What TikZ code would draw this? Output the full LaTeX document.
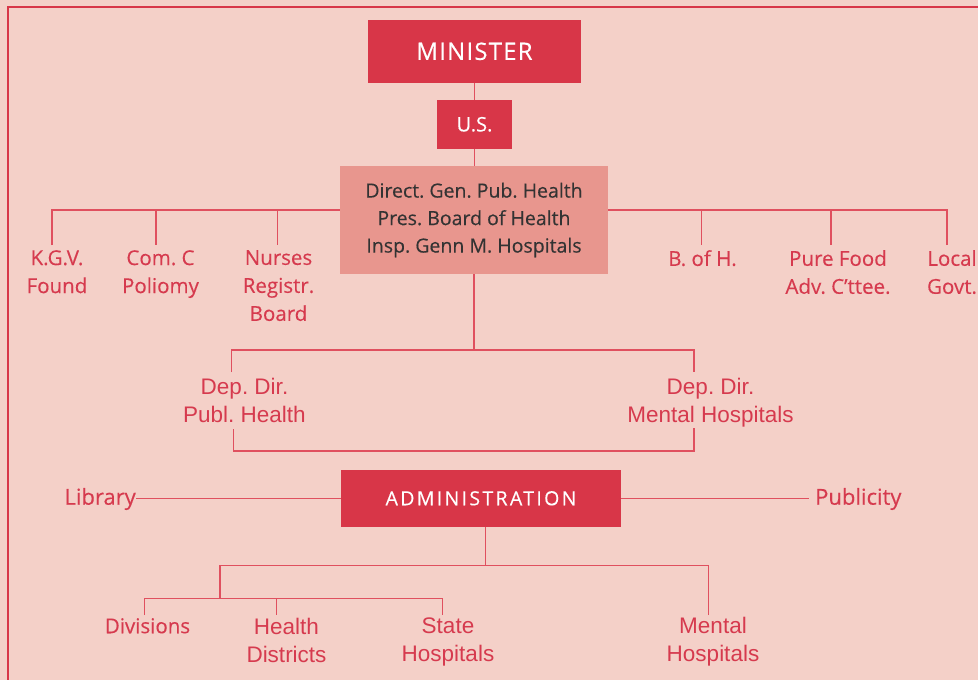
\documentclass[tikz,border=0pt]{standalone}
\usepackage{fontspec}
\setmainfont{Open Sans}[FakeBold=0.3]
\newfontfamily\arialfont{Liberation Sans}
\frenchspacing

\definecolor{panelbg}{HTML}{F4D0C8}
\definecolor{boxred}{HTML}{D83648}
\definecolor{boxpink}{HTML}{E8968E}
\definecolor{wirered}{HTML}{E0505F}
\definecolor{labelred}{HTML}{D63A4E}
\definecolor{darktext}{HTML}{333333}

\tikzset{
	headbox/.style={fill=boxred, text=white, inner sep=0pt},
	chiefbox/.style={fill=boxpink, text=darktext, inner sep=0pt, align=center,
		font=\fontsize{19.5}{27.5}\selectfont},
	unit/.style={text=labelred, inner sep=0pt, align=center, anchor=north,
		font=\fontsize{20.5}{28}\selectfont},
	unitA/.style={unit, font=\arialfont\fontsize{22.5}{27.5}\selectfont},
	wire/.style={draw=wirered, line width=1.2pt}
}

\begin{document}
\begin{tikzpicture}[x=1pt, y=-1pt]

\useasboundingbox (0,0) rectangle (978,680);
\fill [panelbg] (0,0) rectangle (978,680);
\draw [boxred, line width=2pt] (7.7,700) -- (7.7,6.7) -- (1000,6.7);

% top of the chart
\node [headbox, minimum width=213pt, minimum height=62.7pt,
	font=\addfontfeature{LetterSpace=5}\fontsize{24}{24}\selectfont]
	(minister) at (474.5,51.3) {MINISTER};
\node [headbox, minimum width=75pt, minimum height=48.7pt,
	font=\fontsize{20}{20}\selectfont]
	(us) at (474.5,124.3) {U.S.};
\node [chiefbox, minimum width=268pt, minimum height=108pt]
	(dgph) at (474,220)
	{Direct. Gen. Pub. Health\\Pres. Board of Health\\Insp. Genn M. Hospitals};

\draw [wire] (minister) -- (us);
\draw [wire] (us.south) -- (us.south |- dgph.north);

% boards left and right
\coordinate (tbus) at (0,210);
\node [unit] (kgv) at (57,250) {K.G.V.\\Found};
\node [unit] (comc) at (160.5,250) {Com. C\\Poliomy};
\node [unit] (nurses) at (278.5,250) {Nurses\\Registr.\\Board};
\node [unit] (boh) at (702.5,250) {B. of H.};
\node [unit] (purefood) at (838,250) {Pure Food\\Adv. C’ttee.};
\node [unit] (localgov) at (952,250) {Local\\Govt.};

\draw [wire] ([xshift=-5pt, yshift=5pt]kgv.north) |- (dgph.west |- tbus);
\draw [wire] ([xshift=-5pt, yshift=5pt]localgov.north) |- (dgph.east |- tbus);
\foreach \n/\dx in {comc/-4.5, nurses/-1, boh/-1, purefood/-7}
	\draw [wire] ([xshift=\dx pt]\n.north |- tbus) -- ([xshift=\dx pt, yshift=5pt]\n.north);

% deputy directors
\node [unitA] (ddph) at (244.5,378) {Dep. Dir.\\Publ. Health};
\node [unitA] (ddmh) at (710.5,378) {Dep. Dir.\\Mental Hospitals};

\draw [wire] (dgph.south) -- ++(0,76);
\draw [wire] ([xshift=-13pt, yshift=6pt]ddph.north) -- ++(0,-22)
	-| ([xshift=-16.5pt, yshift=6pt]ddmh.north);
\draw [wire] ([xshift=-11pt, yshift=-51pt]ddph.north) -- ++(0,22)
	-| ([xshift=-16.5pt, yshift=-50pt]ddmh.north);

% administration
\node [headbox, minimum width=280pt, minimum height=56.7pt,
	font=\addfontfeature{LetterSpace=12}\fontsize{19.5}{19.5}\selectfont]
	(admin) at (481,498.3) {ADMINISTRATION};
\node [unit, anchor=east, font=\fontsize{22}{28}\selectfont]
	(library) at (136,499) {Library};
\node [unit, anchor=west, font=\fontsize{22}{28}\selectfont]
	(publicity) at (815,499) {Publicity};

\draw [wire] (library.east |- admin.west) -- (admin.west);
\draw [wire] (admin.east) -- ([xshift=-6pt]publicity.west |- admin.east);

\node [unit] (divisions) at (147.5,618) {Divisions};
\node [unitA] (healthdist) at (286.5,618) {Health\\Districts};
\node [unitA] (statehosp) at (448,618) {State\\Hospitals};
\node [unitA] (mentalhosp) at (713,617) {Mental\\Hospitals};

\coordinate (abus) at (485.3,565.3);
\coordinate (sbus) at (220,598.3);
\draw [wire] ([xshift=4.3pt]admin.south) -- (abus);
\draw [wire] ([xshift=-4.7pt, yshift=2pt]mentalhosp.north) |- (abus) -| (sbus);
\draw [wire] ([xshift=-3pt, yshift=3pt]divisions.north) |- (sbus)
	-| ([xshift=-5.7pt, yshift=3pt]statehosp.north);
\draw [wire] ([xshift=-10pt]healthdist.north |- sbus) -- ([xshift=-10pt, yshift=3pt]healthdist.north);

\end{tikzpicture}
\end{document}
